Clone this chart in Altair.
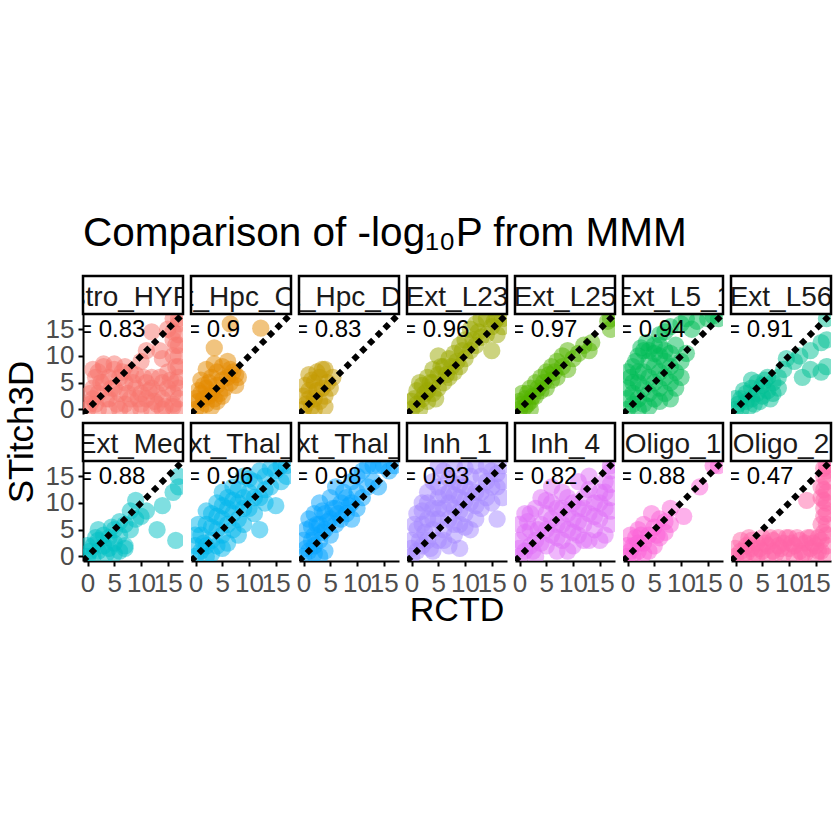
import altair as alt
import pandas as pd

cell_types = ["Astro_HYPO", "Ext_Hpc_CA1", "Ext_Hpc_DG1", "Ext_L23", "Ext_L25", "Ext_L5_1", "Ext_L56",
              "Ext_Med", "Ext_Thal_1", "Ext_Thal_2", "Inh_1", "Inh_4", "Oligo_1", "Oligo_2"]
r_values = [0.83, 0.9, 0.83, 0.96, 0.97, 0.94, 0.91, 0.88, 0.96, 0.98, 0.93, 0.82, 0.88, 0.47]
colors = ["#F8766D", "#E38900", "#C49A00", "#99A800", "#53B400", "#00BC56", "#00C094",
          "#00BFC4", "#00B6EB", "#06A4FF", "#A58AFF", "#DF70F8", "#FB61D7", "#FF66A8"]
tick_values = [0, 5, 10, 15]

# (RCTD, STitch3D) pairs
astro_hypo = [(0, 0), (0.5, 1), (1, 2), (1, 4), (1.5, 6), (2, 3), (2, 7), (3, 5), (3, 8), (4, 2), (4, 6),
              (5, 4), (5, 7.5), (6, 3), (6, 6), (7, 1), (7, 5), (8, 7), (8, 2), (9, 4), (9, 6.5), (10, 1),
              (10, 3), (11, 5), (11, 2), (12, 4), (12, 6), (13, 1), (13, 3), (14, 5), (14, 2), (15, 4),
              (15, 7), (16, 1), (16, 3), (17, 0), (17, 2), (17, 4), (17, 6), (17, 8), (17, 10), (17, 12),
              (17, 14), (17, 16), (17, 17), (12, 14.5), (13.5, 11), (11, 11), (15, 15), (16, 13), (10, 9),
              (14, 9.5), (16, 17), (0.5, 3), (1.5, 1), (2.5, 5), (3.5, 2), (4.5, 4), (5.5, 1), (6.5, 7),
              (7.5, 3), (8.5, 5), (9.5, 2), (10.5, 6), (11.5, 3.5), (12.5, 1.5), (13.5, 6), (14.5, 0.5),
              (15.5, 5.5), (2, 0), (4, 0), (6, 0), (8, 0), (10, 0), (12, 0), (14, 0), (16, 0.5), (3, 8.5),
              (1, 7.5), (5, 8.5), (7, 8), (16.5, 8), (16.5, 5), (16, 10), (16.5, 12), (16, 14.5)]
ext_hpc_ca1 = [(0, 0), (0.5, 1.5), (1, 0.5), (1, 3), (1.5, 2), (2, 4), (2, 1), (2.5, 5), (3, 3), (3, 6),
               (3.5, 2), (4, 4.5), (4, 7), (4.5, 3), (5, 5.5), (5, 8), (5.5, 4), (6, 6), (6, 9), (6.5, 5),
               (7, 7), (7.5, 4.5), (8, 6), (2, 7.5), (3.5, 11.5), (6.5, 16), (12.2, 15.2), (1, 5.5),
               (0.5, 3.5), (0, 2), (1.5, 4.5), (2.5, 2.5), (3, 0.5), (4, 1.5), (5, 2.5), (6.5, 7.5),
               (7.5, 6.5), (3.5, 8.5)]
ext_hpc_dg1 = [(0, 0), (0.5, 1), (1, 2), (1, 3.5), (1.5, 0.5), (2, 2), (2, 5), (2.5, 3.5), (3, 1.5), (3, 6),
               (3.5, 4), (4, 2.5), (4, 7.5), (4.5, 5), (5, 4), (1, 6.5), (2.5, 7), (0.3, 4.5), (5.5, 6),
               (0, 2.5), (1.5, 5.5), (3.5, 7.5), (2, 0), (4, 0.5)]
ext_l23 = [(0, 0), (0.5, 2), (1, 1), (1, 3.5), (2, 2), (2, 4.5), (3, 1.5), (3, 3.5), (3, 6), (4, 3), (4, 5),
           (4, 7.5), (5, 4), (5, 6.5), (5, 10), (6, 5), (6, 8), (7, 6), (7, 9.5), (8, 7), (8, 10.5), (9, 8),
           (9, 12), (10, 9.5), (10, 13), (11, 11), (11, 15), (12, 12), (12, 16), (13, 13.5), (13, 17),
           (14, 14), (14, 17), (15, 11), (15, 15.5), (16, 17), (17, 17), (16, 14), (0, 1.5), (1.5, 0),
           (1.5, 5), (2.5, 3), (3.5, 5), (4.5, 2), (5.5, 8), (6.5, 6.5), (7.5, 8), (8.5, 9), (9.5, 11),
           (11.5, 13), (12.5, 14.5), (15.5, 16.5), (17, 15.5)]
ext_l25 = [(0, 0), (0.5, 1), (1, 2), (1, 0.5), (1.5, 3), (2, 1.5), (2, 4), (3, 2.5), (3, 5), (4, 3.5),
           (4, 6), (5, 4), (5, 7), (6, 5.5), (6, 8), (7, 6), (7, 9), (8, 8), (8, 10), (9, 7.5), (9, 11),
           (10, 9.5), (11, 10.5), (12, 12), (13, 11), (13.5, 12.5), (16.5, 16.5), (17, 17), (17, 15), (2, 0),
           (0, 1.5), (0.5, 3), (2.5, 2.5), (3.5, 4), (4.5, 5), (5.5, 6.5), (6.5, 7), (1.5, 1)]
ext_l5_1 = [(0, 0), (0, 2), (0, 4), (0.5, 6), (1, 1), (1, 3), (1, 8), (2, 2), (2, 5), (2, 10), (3, 1), (3, 4),
            (3, 7), (3, 11), (4, 3), (4, 6), (4, 9), (5, 2), (5, 5), (5, 8), (5, 12), (6, 4), (6, 7), (6, 10),
            (7, 3), (7, 6), (7, 9), (8, 5), (8, 8), (9, 4), (9, 7), (10, 6), (6, 14), (8, 15.5), (11, 17),
            (15, 17), (17, 17), (9, 12), (10, 16), (0, 7), (1, 5), (1.5, 9), (2, 7), (2.5, 11.5), (3.5, 12.5),
            (4, 11), (5, 10.5), (6, 12), (7, 11), (8, 10.5), (10, 9), (11, 10.5), (12, 15), (13, 16.5),
            (16, 17.5), (7, 14.5), (8, 2), (6, 1.5), (4, 0.5), (2, 0)]
ext_l56 = [(0, 0), (0.5, 1), (1, 2), (1, 0), (2, 1.5), (2, 3), (3, 2), (3, 4), (4, 3), (4, 5), (5, 2.5),
           (5, 4.5), (6, 3.5), (6, 6), (7, 5), (7, 3), (8, 6), (9, 7.5), (9.5, 9.5), (11, 9), (12, 10),
           (12.5, 6), (14, 7.5), (16, 7), (17, 8), (16, 12.5), (17, 13), (17, 17), (14, 11), (8, 4),
           (0, 2), (1.5, 3.5), (2.5, 0.5), (3.5, 1), (4.5, 1.5), (5.5, 5.5), (6.5, 2), (3, 5.5)]
ext_med = [(0, 0), (0.5, 1), (1, 2), (1, 0), (2, 1), (2, 3), (3, 2), (3, 4), (4, 1.5), (4, 3.5), (5, 2.5),
           (5, 5), (6, 4), (6, 1), (7, 2), (7, 6), (8, 8.5), (9, 10.5), (8, 5), (10, 7.5), (11, 8.5),
           (13, 5), (14, 9.5), (16.5, 3), (17, 13), (17, 15), (16, 12), (7, 1.5), (2, 5), (0, 2),
           (1.5, 3.5), (3.5, 0.5), (5, 0.5), (4.5, 5.5), (6, 6.5), (9, 7)]
ext_thal_1 = [(0, 0), (0, 2), (1, 1), (1, 4), (2, 2), (2, 6), (3, 3), (3, 8), (4, 2), (4, 5), (4, 10), (5, 4),
              (5, 7), (5, 12), (6, 6), (6, 9), (7, 5), (7, 8), (7, 13), (8, 7), (8, 10), (9, 6), (9, 11),
              (9, 15), (10, 9), (10, 12), (11, 8), (11, 14), (12, 5), (12, 11), (13, 10), (13, 15), (14, 13),
              (15, 9.5), (15, 16), (16, 14), (17, 17), (17, 15), (3, 0.5), (6, 2.5), (0, 4), (0.5, 6),
              (1.5, 2.5), (2, 8.5), (3, 5.5), (4, 7.5), (5, 9.5), (6, 11), (7, 10.5), (8, 12.5), (9, 9),
              (10, 14.5), (11, 11), (12, 16), (13, 12.5), (14, 16.5), (16, 17), (2, 0), (5, 1.5), (8, 4)]
ext_thal_2 = [(0, 0), (0, 3), (0.5, 5), (1, 1), (1, 7), (2, 2), (2, 4), (2, 8), (3, 3), (3, 6), (3, 10),
              (4, 1), (4, 5), (4, 8), (5, 4), (5, 7), (5, 11), (6, 6), (6, 9), (6, 13), (7, 7), (7, 10),
              (8, 8), (8, 11), (9, 7), (9, 10), (9, 14), (10, 9), (10, 12), (11, 11), (11, 16), (12, 13),
              (13, 14), (14, 13), (15, 17), (16, 16), (17, 17), (13, 17), (0.5, 1.5), (1.5, 3), (1.5, 5.5),
              (2.5, 6), (3.5, 4.5), (3.5, 8.5), (4.5, 6.5), (5.5, 9), (6.5, 8), (7.5, 12), (8.5, 9.5),
              (10, 15), (12, 17), (14, 17), (3, 0), (2, 0.5)]
inh_1 = [(0, 0), (0, 3), (1, 1), (1, 5), (1, 8), (2, 2), (2, 6), (2, 10), (3, 3), (3, 7), (3, 12), (4, 1),
         (4, 5), (4, 9), (4, 14), (5, 3), (5, 7), (5, 11), (6, 5), (6, 9), (6, 16), (7, 2), (7, 7), (7, 12),
         (8, 4), (8, 9), (8, 14), (9, 1.5), (9, 6), (9, 11), (10, 8), (10, 13), (11, 5), (11, 10), (12, 7),
         (12, 12), (13, 9), (13, 15), (14, 11), (15, 10), (15, 16), (16, 7), (16, 13), (17, 17), (17, 11),
         (12, 17), (0, 1.5), (0.5, 6), (1.5, 3), (2, 8.5), (2.5, 4.5), (3, 10), (3.5, 1.5), (4, 7),
         (5, 9), (5, 13), (6, 3), (6, 11.5), (7, 10), (7, 14.5), (8, 6), (8, 11.5), (9, 8.5), (9, 13.5),
         (10, 5.5), (10, 10.5), (11, 12.5), (11, 15), (12, 9.5), (13, 12), (14, 14), (15, 13), (16, 15.5),
         (17, 14), (5, 17), (8, 17), (10, 16.5), (14, 17)]
inh_4 = [(0, 0), (0, 3), (0, 6), (1, 1), (1, 8), (2, 2), (2, 5), (3, 0), (3, 3), (3, 9), (4, 6), (4, 11),
         (5, 2), (5, 8), (6, 4), (6, 10), (6, 13), (7, 1), (7, 6), (8, 3), (8, 9), (8, 12), (9, 5), (9, 11),
         (10, 2), (10, 7), (11, 4), (11, 9), (11, 14), (12, 6), (12, 11), (13, 3), (13, 8), (13, 15),
         (14, 5), (14, 10), (15, 7), (15, 12), (16, 4), (16, 9), (16, 14), (17, 6), (17, 11), (17, 16),
         (17, 17), (5, 5), (2, 8), (0, 1.5), (1, 4.5), (1.5, 6.5), (2.5, 1), (3.5, 5), (4, 2.5), (5, 10.5),
         (6, 7), (7, 9), (7, 3.5), (8, 6), (9, 8), (9, 1), (10, 10), (10, 4.5), (11, 6.5), (12, 9),
         (12, 3), (13, 12.5), (14, 7.5), (15, 10), (16, 12), (17, 8.5), (17, 13.5), (15, 3)]
oligo_1 = [(0, 0), (0.5, 1), (1, 2), (1, 0), (1.5, 3.5), (2, 1), (2, 5), (3, 2.5), (3, 6), (4, 4), (4, 1),
           (4.5, 8), (5, 5.5), (5, 2), (6, 7), (6, 3.5), (7, 4.5), (8, 6), (8, 9), (10.5, 7.5), (13.5, 13),
           (16, 17), (17, 17), (0.5, 4), (0, 2), (2.5, 4), (3, 0.5), (5.5, 4), (7, 6.5), (2, 2.5)]
oligo_2 = [(0, 0), (1, 1), (2, 2), (2, 0.5), (3, 1.5), (3, 3), (4, 0), (4, 2.5), (5, 1), (5, 3.5), (6, 2),
           (6, 0), (7, 3), (7, 1), (8, 2), (8, 3.5), (9, 0.5), (9, 2.5), (10, 1.5), (10, 3.5), (11, 0),
           (11, 2), (12, 1), (12, 3), (13, 2.5), (13, 0.5), (14, 1.5), (14, 3.5), (15, 0), (15, 2), (16, 1),
           (16, 3), (17, 0), (17, 2), (17, 4), (17, 6), (17, 8), (17, 10), (17, 12), (17, 14), (17, 16),
           (17, 17), (16.5, 15), (16.5, 9), (13.3, 10.5), (16, 6), (16, 11), (16, 13), (0, 1.5), (1, 3),
           (1.5, 0), (2.5, 3.5), (3.5, 0.5), (4.5, 1.5), (5.5, 2.5), (6.5, 3.5), (7.5, 0.5), (8.5, 1.5),
           (9.5, 3.5), (10.5, 2.5), (11.5, 3.5), (12.5, 0.5), (13.5, 3.5), (14.5, 2.5), (15.5, 3.5),
           (15.5, 1), (16.5, 4.5), (16.5, 7.5), (16.5, 10.5), (16.5, 12.5), (16.5, 16.5)]

panel_points = [astro_hypo, ext_hpc_ca1, ext_hpc_dg1, ext_l23, ext_l25, ext_l5_1, ext_l56,
                ext_med, ext_thal_1, ext_thal_2, inh_1, inh_4, oligo_1, oligo_2]

FONT = "Liberation Sans"
DOM = [-0.85, 17.85]
W, PH, SH = 100, 100, 38
H = PH + SH


def axis(show):
    if not show:
        return None
    return alt.Axis(values=tick_values, title=None, grid=False, labelFontSize=26, labelColor="#4D4D4D",
                    labelFont=FONT, tickColor="black", tickWidth=2, tickSize=5, domainColor="black",
                    domainWidth=2, labelPadding=4, labelOverlap=False, labelFlush=False)


def cell(i):
    row, col = divmod(i, 7)
    xs = alt.Scale(domain=DOM, nice=False, zero=False)
    ys = alt.Scale(domain=DOM, nice=False, zero=False, range=[H, SH])
    xa = axis(row == 1)
    ya = axis(col == 0)
    df = pd.DataFrame(panel_points[i], columns=["RCTD", "STitch3D"])
    pts = alt.Chart(df).mark_circle(size=300, opacity=0.5, color=colors[i], clip=True).encode(
        x=alt.X("RCTD:Q", scale=xs, axis=xa),
        y=alt.Y("STitch3D:Q", scale=ys, axis=ya),
    )
    diag = alt.Chart(pd.DataFrame({"RCTD": DOM, "STitch3D": DOM})).mark_line(
        color="black", strokeWidth=6, strokeDash=[6, 5], clip=True).encode(
        x=alt.X("RCTD:Q", scale=xs, axis=xa), y=alt.Y("STitch3D:Q", scale=ys, axis=ya))
    lab = pd.DataFrame({"label": [f"R = {r_values[i]}"], "strip": [cell_types[i]]})
    rtext = alt.Chart(lab).mark_text(align="left", baseline="alphabetic", fontSize=24, font=FONT,
                                     color="black", clip=True).encode(
        x=alt.value(-29), y=alt.value(SH + 23), text="label:N")
    sfill = alt.Chart(lab).mark_rect(fill="white").encode(
        x=alt.value(0), x2=alt.value(W), y=alt.value(0), y2=alt.value(SH))
    stext = alt.Chart(lab).mark_text(align="center", baseline="alphabetic", fontSize=28, font=FONT,
                                     color="#1A1A1A", clip=True).encode(
        x=alt.value(W / 2), y=alt.value(29.5), text="strip:N")
    sborder = alt.Chart(lab).mark_rect(fill="transparent", stroke="black", strokeWidth=2.5).encode(
        x=alt.value(0), x2=alt.value(W), y=alt.value(0), y2=alt.value(SH))
    layers = [pts, diag, rtext, sfill, stext, sborder]
    if i == 0:
        layers.append(alt.Chart(pd.DataFrame({"t": ["STitch3D"]})).mark_text(
            angle=270, align="center", baseline="middle", fontSize=35, font=FONT, color="black").encode(
            x=alt.value(-61), y=alt.value(156), text="t:N"))
    if i == 10:
        layers.append(alt.Chart(pd.DataFrame({"t": ["RCTD"]})).mark_text(
            align="center", baseline="alphabetic", fontSize=34, font=FONT, color="black").encode(
            x=alt.value(W / 2), y=alt.value(198), text="t:N"))
    return alt.layer(*layers).properties(width=W, height=H)


chart = alt.concat(*[cell(i) for i in range(14)], columns=7, spacing={"row": 9, "column": 8},
                   bounds="flush").properties(
    title=alt.TitleParams(text="Comparison of -log₁₀P from MMM", anchor="start", frame="group",
                          fontSize=40.5, font=FONT, fontWeight="normal", color="black", offset=20),
    padding={"left": 5, "top": 214, "right": 5, "bottom": 5},
).configure_view(strokeWidth=0).configure_axis(labelOverlap=False)

chart.save("out.html", embed_options={"renderer": "svg", "actions": False})
